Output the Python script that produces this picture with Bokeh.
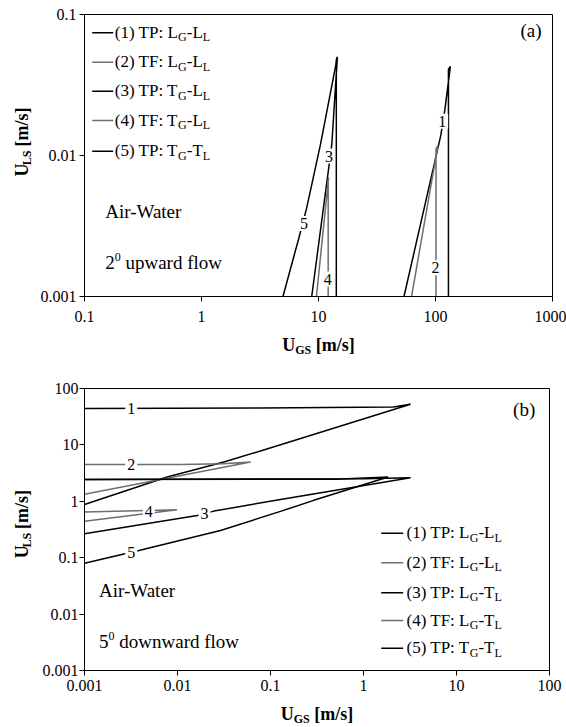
import math
from bokeh.plotting import figure
from bokeh.models import Label, FixedTicker, CustomJSTickFormatter, Range1d
from bokeh.layouts import column, row
from bokeh.embed import file_html
from bokeh.resources import INLINE

FONT = "Liberation Serif"
BLACK = "#000000"
GRAY = "#6e6e6e"

# ---------------- data: panel (a) 2 deg upward ----------------
a_xticks = [0.1, 1, 10, 100, 1000]
a_yticks = [0.001, 0.01, 0.1]
a1_x = [53.8, 111, 120, 134, 129, 129]
a1_y = [0.001, 0.0139, 0.0208, 0.0428, 0.041, 0.001]
a2_x = [62.4, 105, 101, 101]
a2_y = [0.001, 0.0118, 0.0112, 0.001]
a3_x = [8.75, 12.2, 13.0, 14.5, 14.2, 14.2]
a3_y = [0.001, 0.00805, 0.0121, 0.050, 0.048, 0.001]
a4_x = [9.6, 12.2, 12.1, 12.1]
a4_y = [0.001, 0.0070, 0.0066, 0.001]
a5_x = [4.97, 6.0, 6.8, 7.9, 10.4, 14.5]
a5_y = [0.001, 0.00178, 0.0026, 0.0042, 0.012, 0.050]
a_num_text = ["1", "2", "3", "4", "5"]
a_num_x = [114, 100, 12.3, 12.0, 7.5]
a_num_y = [0.0175, 0.0016, 0.0099, 0.00133, 0.0033]

# ---------------- data: panel (b) 5 deg downward ----------------
b_xticks = [0.001, 0.01, 0.1, 1, 10, 100]
b_yticks = [0.001, 0.01, 0.1, 1, 10, 100]
b1_x = [0.001, 0.00775, 0.0315, 0.078, 0.44, 3.2, 2.1, 0.078, 0.001]
b1_y = [0.88, 2.69, 4.97, 7.8, 19.0, 52.6, 47.2, 45.3, 44.2]
b2_x = [0.001, 0.061, 0.031, 0.0108, 0.001]
b2_y = [1.33, 4.97, 4.62, 4.5, 4.47]
b3_x = [0.001, 0.0163, 0.0246, 0.128, 3.2, 1.0, 0.001]
b3_y = [0.265, 0.562, 0.67, 1.08, 2.62, 2.50, 2.44]
b4_x = [0.001, 0.0099, 0.001]
b4_y = [0.445, 0.71, 0.643]
b5_x = [0.001, 0.00384, 0.029, 0.128, 0.292, 1.84, 0.5, 0.001]
b5_y = [0.0798, 0.134, 0.304, 0.662, 1.04, 2.69, 2.46, 2.44]
b_num_text = ["1", "2", "3", "4", "5"]
b_num_x = [0.00318, 0.00318, 0.0195, 0.0049, 0.00318]
b_num_y = [44.3, 4.47, 0.60, 0.65, 0.125]

legend_a = [
    [("(1) TP: L", "n"), ("G", "s"), ("-L", "n"), ("L", "s")],
    [("(2) TF: L", "n"), ("G", "s"), ("-L", "n"), ("L", "s")],
    [("(3) TP: T", "n"), ("G", "s"), ("-L", "n"), ("L", "s")],
    [("(4) TF: T", "n"), ("G", "s"), ("-L", "n"), ("L", "s")],
    [("(5) TP: T", "n"), ("G", "s"), ("-T", "n"), ("L", "s")],
]
legend_b = [
    [("(1) TP: L", "n"), ("G", "s"), ("-L", "n"), ("L", "s")],
    [("(2) TF: L", "n"), ("G", "s"), ("-L", "n"), ("L", "s")],
    [("(3) TP: L", "n"), ("G", "s"), ("-T", "n"), ("L", "s")],
    [("(4) TF: L", "n"), ("G", "s"), ("-T", "n"), ("L", "s")],
    [("(5) TP: T", "n"), ("G", "s"), ("-T", "n"), ("L", "s")],
]
colors = [BLACK, GRAY, BLACK, GRAY, BLACK]

# ---------------- text metrics (Times / Liberation Serif) ----------------
W_REG = {" ": 250, "(": 333, ")": 333, "-": 333, ".": 250, "/": 278, ":": 278,
         "[": 333, "]": 333, "A": 722, "F": 556, "G": 722, "L": 611, "P": 556,
         "S": 556, "T": 611, "U": 722, "W": 944, "a": 444, "d": 500, "e": 444,
         "f": 333, "i": 278, "l": 278, "m": 778, "n": 500, "o": 500, "p": 500,
         "r": 333, "s": 389, "t": 278, "u": 500, "w": 722}
W_BOLD = {" ": 250, "[": 333, "]": 333, "/": 278, "U": 722, "G": 778, "S": 556,
          "L": 667, "m": 833, "s": 389}
BASE_FIX = 0.34  # renderer places the given y about this many em above the baseline


def twidth(s, size, bold=False):
    tbl = W_BOLD if bold else W_REG
    return sum(tbl.get(c, 500) for c in s) * size / 1000.0


def rich(p, fx, fy, px, py, pieces, size, subsize, bold=False, vertical=False,
         align="left", extra_gap=0.0):
    total = sum(twidth(t, size if k == "n" else subsize, bold) for t, k in pieces)
    if align == "center":
        if vertical:
            py = py + total / 2
        else:
            px = px - total / 2
    cur = py if vertical else px
    for t, k in pieces:
        sz = size if k == "n" else subsize
        lead = len(t) - len(t.lstrip(" "))
        if lead:
            w0 = twidth(" " * lead, sz, bold) + extra_gap
            cur = cur - w0 if vertical else cur + w0
            t = t.lstrip(" ")
        shift = 0.0
        if k == "s":
            shift = 3.0
        elif k == "p":
            shift = -7.5
        shift -= BASE_FIX * sz
        if vertical:
            x, y, ang = px + shift, cur, math.pi / 2
        else:
            x, y, ang = cur, py + shift, 0.0
        p.add_layout(Label(x=fx(x), y=fy(y), text=t, angle=ang,
                           text_font=FONT, text_font_size=f"{sz}px",
                           text_font_style="bold" if bold else "normal",
                           text_color=BLACK, text_align="left",
                           text_baseline="alphabetic"))
        w = twidth(t, sz, bold)
        cur = cur - w if vertical else cur + w


def style(p, xt, yt, xstand, ystand):
    fmt = CustomJSTickFormatter(code="return tick.toString()")
    for ax, ticks, st in ((p.xaxis[0], xt, xstand), (p.yaxis[0], yt, ystand)):
        ax.ticker = FixedTicker(ticks=ticks)
        ax.formatter = fmt
        ax.major_tick_out = 5
        ax.major_tick_in = 0
        ax.minor_tick_out = 0
        ax.minor_tick_in = 0
        ax.axis_line_color = BLACK
        ax.axis_line_width = 1
        ax.major_tick_line_color = BLACK
        ax.major_label_text_font = FONT
        ax.major_label_text_font_size = "16px"
        ax.major_label_text_color = BLACK
        ax.major_label_standoff = st
    p.grid.visible = False
    p.outline_line_color = BLACK
    p.outline_line_width = 1
    p.outline_line_alpha = 1
    p.background_fill_color = "white"
    p.border_fill_color = "white"


def numlabels(p, xs, ys, texts):
    for x, y, t in zip(xs, ys, texts):
        p.add_layout(Label(x=x, y=y, text=t, text_font=FONT, text_font_size="16px",
                           text_color=BLACK, text_align="center",
                           text_baseline="middle", background_fill_color="white",
                           background_fill_alpha=1.0, padding=2))


def text_fig(w, h):
    f = figure(width=w, height=h, x_range=Range1d(0, w), y_range=Range1d(0, h),
               min_border=0, toolbar_location=None, output_backend="svg",
               x_axis_location=None, y_axis_location=None)
    f.grid.visible = False
    f.xgrid.visible = False
    f.ygrid.visible = False
    f.outline_line_color = None
    f.background_fill_color = "white"
    f.border_fill_color = "white"
    return f


# ---------------- panel (a) ----------------
pa = figure(width=530, height=332, x_axis_type="log", y_axis_type="log",
            x_range=Range1d(0.1, 1000), y_range=Range1d(0.001, 0.1),
            output_backend="svg", toolbar_location=None,
            min_border_left=48, min_border_right=14, min_border_top=14,
            min_border_bottom=36)
style(pa, a_xticks, a_yticks, 9, 3)

A_L, A_R, A_T, A_B = 84, 552, 14, 296


def ax_(px):
    return 10 ** (-1 + 4 * (px - A_L) / (A_R - A_L))


def ay_(py):
    return 10 ** (-1 - 2 * (py - A_T) / (A_B - A_T))


for xs, ys, c in ((a5_x, a5_y, BLACK), (a3_x, a3_y, BLACK), (a4_x, a4_y, GRAY),
                  (a1_x, a1_y, BLACK), (a2_x, a2_y, GRAY)):
    pa.line(xs, ys, line_color=c, line_width=1.5)
numlabels(pa, a_num_x, a_num_y, a_num_text)

a_rows = [32.3, 61.7, 90.7, 120.0, 150.7]
for r, pieces, c in zip(a_rows, legend_a, colors):
    pa.segment(x0=[ax_(91.7)], y0=[ay_(r)], x1=[ax_(112.7)], y1=[ay_(r)],
               line_color=c, line_width=1.6)
    rich(pa, ax_, ay_, 114.3, r + 5.5, pieces, 17, 12)

rich(pa, ax_, ay_, 104.7, 217, [("Air-Water", "n")], 19, 12)
rich(pa, ax_, ay_, 104.7, 268.5, [("2", "n"), ("0", "p"), (" upward flow", "n")], 19, 12)
rich(pa, ax_, ay_, 520, 36, [("(a)", "n")], 19, 12)

ya = text_fig(36, 332)
rich(ya, lambda px: px, lambda py: 332 - py, 28, 155,
     [("U", "n"), ("LS", "s"), (" [m/s]", "n")], 18, 12,
     bold=True, vertical=True, align="center", extra_gap=3.0)
xa = text_fig(566, 28)
rich(xa, lambda px: px, lambda py: 28 - (py - 332), 318, 350.5,
     [("U", "n"), ("GS", "s"), (" [m/s]", "n")], 18, 12, bold=True, align="center")

# ---------------- panel (b) ----------------
pb = figure(width=530, height=340, x_axis_type="log", y_axis_type="log",
            x_range=Range1d(0.001, 100), y_range=Range1d(0.001, 100),
            output_backend="svg", toolbar_location=None,
            min_border_left=48, min_border_right=17, min_border_top=28,
            min_border_bottom=30)
style(pb, b_xticks, b_yticks, 4, 1)

B_L, B_R, B_T, B_B = 84, 549, 388, 670


def bx_(px):
    return 10 ** (-3 + 5 * (px - B_L) / (B_R - B_L))


def by_(py):
    return 10 ** (2 - 5 * (py - B_T) / (B_B - B_T))


for xs, ys, c in ((b1_x, b1_y, BLACK), (b2_x, b2_y, GRAY), (b4_x, b4_y, GRAY),
                  (b5_x, b5_y, BLACK), (b3_x, b3_y, BLACK)):
    pb.line(xs, ys, line_color=c, line_width=1.5)
numlabels(pb, b_num_x, b_num_y, b_num_text)

b_rows = [532.7, 562.3, 592.3, 620.0, 647.7]
for r, pieces, c in zip(b_rows, legend_b, colors):
    pb.segment(x0=[bx_(380.7)], y0=[by_(r)], x1=[bx_(402.7)], y1=[by_(r)],
               line_color=c, line_width=1.6)
    rich(pb, bx_, by_, 406, r + 5.5, pieces, 17, 12)

rich(pb, bx_, by_, 98.5, 596.5, [("Air-Water", "n")], 19, 12)
rich(pb, bx_, by_, 98.5, 647, [("5", "n"), ("0", "p"), (" downward flow", "n")], 19, 12)
rich(pb, bx_, by_, 512.6, 415, [("(b)", "n")], 19, 12)

yb = text_fig(36, 340)
rich(yb, lambda px: px, lambda py: 340 - (py - 360), 28, 529,
     [("U", "n"), ("LS", "s"), (" [m/s]", "n")], 18, 12,
     bold=True, vertical=True, align="center", extra_gap=3.0)
xb = text_fig(566, 27)
rich(xb, lambda px: px, lambda py: 27 - (py - 700), 316.5, 719.5,
     [("U", "n"), ("GS", "s"), (" [m/s]", "n")], 18, 12, bold=True, align="center")

layout = column(row(ya, pa, spacing=0), xa, row(yb, pb, spacing=0), xb, spacing=0)
open("out.html", "w").write(file_html(layout, INLINE))
